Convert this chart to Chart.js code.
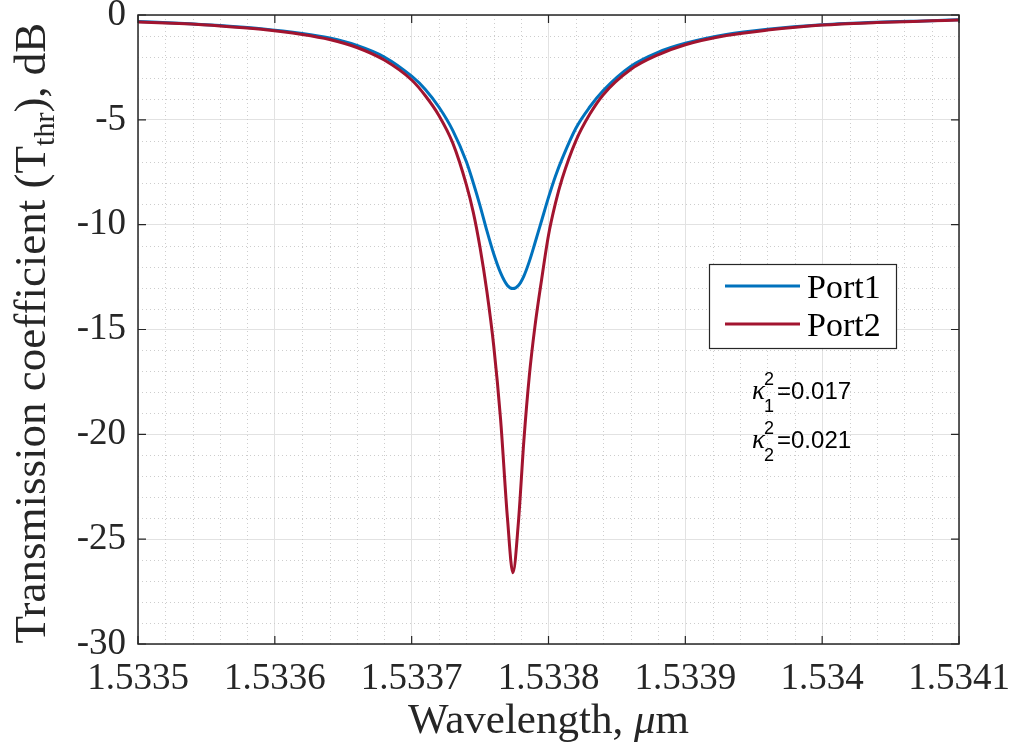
<!DOCTYPE html>
<html>
<head>
<meta charset="utf-8">
<script src="https://cdn.jsdelivr.net/npm/chart.js@4.4.1/dist/chart.umd.min.js"></script>
<style>
  html, body { margin:0; padding:0; background:#fff; }
  #wrap { width:1011px; height:753px; }
</style>
</head>
<body>
<div id="wrap"><canvas id="tc" width="1011" height="753"></canvas></div>
<script>
// values (wavelength in um, transmission in dB)
const wavelength = [1.53350, 1.53353, 1.53356, 1.53359, 1.53362, 1.53364, 1.53366, 1.53368,
  1.53370, 1.53371, 1.53372, 1.53373, 1.53374, 1.533745, 1.53375, 1.533755, 1.53376, 1.533765,
  1.53377, 1.533774, 1.533778, 1.533782, 1.533786, 1.53379, 1.533795, 1.53380, 1.533805, 1.53381,
  1.53382, 1.53383, 1.53384, 1.53386, 1.53388, 1.53390, 1.53393, 1.53396, 1.53400, 1.53404,
  1.53408, 1.53410];
const port1 = [-0.31, -0.39, -0.50, -0.65, -0.88, -1.10, -1.45, -2.0,
  -2.92, -3.55, -4.4, -5.5, -7.0, -8.0, -9.1, -10.3, -11.4, -12.3,
  -12.9, -13.05, -12.9, -12.45, -11.75, -10.9, -9.8, -8.7, -7.7, -6.85,
  -5.4, -4.4, -3.6, -2.45, -1.78, -1.35, -0.93, -0.68, -0.46, -0.34,
  -0.27, -0.23];
const port2 = [-0.33, -0.41, -0.52, -0.68, -0.93, -1.17, -1.55, -2.15,
  -3.1, -3.85, -4.8, -6.1, -8.1, -9.4, -11.1, -13.2, -15.8, -19.3,
  -24.0, -26.6, -24.2, -20.3, -17.2, -14.9, -12.6, -10.5, -9.0, -7.8,
  -6.0, -4.75, -3.8, -2.6, -1.9, -1.42, -0.98, -0.72, -0.48, -0.36,
  -0.28, -0.24];

const seriesNames = ['Port1', 'Port2'];
const seriesColors = ['#0072BD', '#A2142F'];
const xTickValues = [1.5335, 1.5336, 1.5337, 1.5338, 1.5339, 1.534, 1.5341];
const xTickLabels = ['1.5335', '1.5336', '1.5337', '1.5338', '1.5339', '1.534', '1.5341'];
const yTickValues = [-30, -25, -20, -15, -10, -5, 0];
const yTickLabels = ['-30', '-25', '-20', '-15', '-10', '-5', '0'];
const xMinorStep = 0.00002, yMinorStep = 1;
const kappaNotes = [['1', '=0.017'], ['2', '=0.021']];

const SERIF = '"Liberation Serif", "Times New Roman", serif';
const SANS = '"Liberation Sans", Arial, sans-serif';
const INK = '#262626';

function pts(ys){ return wavelength.map((x, i) => ({x, y: ys[i]})); }

// minor grid, box, inner ticks, legend, notes, titles
const decor = {
  id: 'decor',
  beforeDatasetsDraw(chart){
    const {ctx, chartArea:a, scales:{x, y}} = chart;
    ctx.save();
    ctx.strokeStyle = '#cdcdcd';
    ctx.lineWidth = 1;
    ctx.setLineDash([1, 3]);
    const nx = Math.round((x.max - x.min) / xMinorStep);
    for(let i = 1; i < nx; i++){
      if(i % 5 === 0) continue;
      const px = Math.round(x.getPixelForValue(x.min + i * xMinorStep)) + 0.5;
      ctx.beginPath(); ctx.moveTo(px, a.top); ctx.lineTo(px, a.bottom); ctx.stroke();
    }
    const ny = Math.round((y.max - y.min) / yMinorStep);
    for(let i = 1; i < ny; i++){
      if(i % 5 === 0) continue;
      const py = Math.round(y.getPixelForValue(y.min + i * yMinorStep)) + 0.5;
      ctx.beginPath(); ctx.moveTo(a.left, py); ctx.lineTo(a.right, py); ctx.stroke();
    }
    ctx.restore();
  },
  afterDatasetsDraw(chart){
    const {ctx, chartArea:a, scales:{x, y}} = chart;
    ctx.save();
    ctx.strokeStyle = INK;
    ctx.lineWidth = 1.5;
    ctx.strokeRect(a.left, a.top, a.right - a.left, a.bottom - a.top);
    ctx.lineWidth = 1.2;
    const tl = 8;
    xTickValues.forEach(v => {
      const px = x.getPixelForValue(v);
      ctx.beginPath();
      ctx.moveTo(px, a.bottom); ctx.lineTo(px, a.bottom - tl);
      ctx.moveTo(px, a.top); ctx.lineTo(px, a.top + tl);
      ctx.stroke();
    });
    yTickValues.forEach(v => {
      const py = y.getPixelForValue(v);
      ctx.beginPath();
      ctx.moveTo(a.left, py); ctx.lineTo(a.left + tl, py);
      ctx.moveTo(a.right, py); ctx.lineTo(a.right - tl, py);
      ctx.stroke();
    });

    // legend
    const lx = 709, ly = 264, lw = 187, lh = 84;
    ctx.fillStyle = '#fff';
    ctx.fillRect(lx, ly, lw, lh);
    ctx.strokeStyle = INK;
    ctx.lineWidth = 1.2;
    ctx.strokeRect(lx + 0.5, ly + 0.5, lw, lh);
    chart.data.datasets.forEach((ds, i) => {
      const yy = ly + 22 + i * 38;
      ctx.strokeStyle = ds.borderColor;
      ctx.lineWidth = 3;
      ctx.beginPath(); ctx.moveTo(lx + 16, yy); ctx.lineTo(lx + 91, yy); ctx.stroke();
      ctx.fillStyle = '#000';
      ctx.font = '34px ' + SERIF;
      ctx.textBaseline = 'alphabetic';
      ctx.textAlign = 'left';
      ctx.fillText(ds.label, lx + 98, yy + 12);
    });

    // coupling notes
    kappaNotes.forEach((n, i) => {
      const bx = 752, by = 399 + i * 49;
      ctx.fillStyle = '#000';
      ctx.font = 'italic 27px ' + SERIF;
      ctx.fillText('\u03BA', bx, by);
      ctx.font = '18px ' + SANS;
      ctx.fillText('2', bx + 12, by - 14);
      ctx.fillText(n[0], bx + 12, by + 13);
      ctx.font = '24px ' + SANS;
      ctx.fillText(n[1], bx + 25, by);
    });
    ctx.restore();
  },
  afterDraw(chart){
    const {ctx, chartArea:a} = chart;
    ctx.save();
    ctx.fillStyle = INK;
    ctx.textBaseline = 'alphabetic';
    ctx.textAlign = 'left';
    // x title
    const f = '43px ' + SERIF, fi = 'italic 43px ' + SERIF;
    const p1 = 'Wavelength, ', p3 = 'm';
    ctx.font = fi;
    const w2 = ctx.measureText('\u03BC').width;
    ctx.font = f;
    const w1 = ctx.measureText(p1).width, w3 = ctx.measureText(p3).width;
    const sx = (a.left + a.right) / 2 - (w1 + w2 + w3) / 2;
    const by = 733;
    ctx.fillText(p1, sx, by);
    ctx.font = fi;
    ctx.fillText('\u03BC', sx + w1, by);
    ctx.font = f;
    ctx.fillText(p3, sx + w1 + w2, by);

    // y title, rotated, with subscript
    const q1 = 'Transmission coefficient (T', q2 = 'thr', q3 = '), dB';
    const fy = '45px ' + SERIF, fs = '30px ' + SERIF;
    ctx.font = fy;
    const m1 = ctx.measureText(q1).width, m3 = ctx.measureText(q3).width;
    ctx.font = fs;
    const m2 = ctx.measureText(q2).width;
    ctx.translate(45, 333);
    ctx.rotate(-Math.PI / 2);
    const tx = -(m1 + m2 + m3) / 2;
    ctx.font = fy;
    ctx.fillText(q1, tx, 0);
    ctx.font = fs;
    ctx.fillText(q2, tx + m1, 9);
    ctx.font = fy;
    ctx.fillText(q3, tx + m1 + m2, 0);
    ctx.restore();
  }
};

new Chart(document.getElementById('tc').getContext('2d'), {
  type: 'line',
  data: {
    datasets: [
      { label: seriesNames[0], data: pts(port1), borderColor: seriesColors[0], order: 1 },
      { label: seriesNames[1], data: pts(port2), borderColor: seriesColors[1], order: 0 }
    ]
  },
  options: {
    responsive: false,
    animation: false,
    devicePixelRatio: 1,
    layout: { padding: { top: 15, right: 52, left: 0, bottom: 0 } },
    elements: {
      point: { radius: 0 },
      line: { borderWidth: 3, cubicInterpolationMode: 'monotone', fill: false }
    },
    plugins: { legend: { display: false }, tooltip: { enabled: false } },
    scales: {
      x: {
        type: 'linear', min: 1.5335, max: 1.5341,
        afterBuildTicks: s => { s.ticks = xTickValues.map(v => ({value: v})); },
        afterFit: s => { s.height = 109; s.paddingLeft = 0; s.paddingRight = 0; },
        ticks: {
          callback: (v, i) => xTickLabels[i],
          font: { family: SERIF, size: 37 }, color: INK, padding: 13, maxRotation: 0
        },
        grid: { color: '#e2e2e2', lineWidth: 1, drawTicks: false },
        border: { display: false }
      },
      y: {
        min: -30, max: 0,
        afterBuildTicks: s => { s.ticks = yTickValues.map(v => ({value: v})); },
        afterFit: s => { s.width = 138; s.paddingTop = 0; s.paddingBottom = 0; },
        ticks: {
          callback: (v, i) => yTickLabels[i],
          font: { family: SERIF, size: 37 }, color: INK, padding: 12
        },
        grid: { color: '#e2e2e2', lineWidth: 1, drawTicks: false },
        border: { display: false }
      }
    }
  },
  plugins: [decor]
});
</script>
</body>
</html>
